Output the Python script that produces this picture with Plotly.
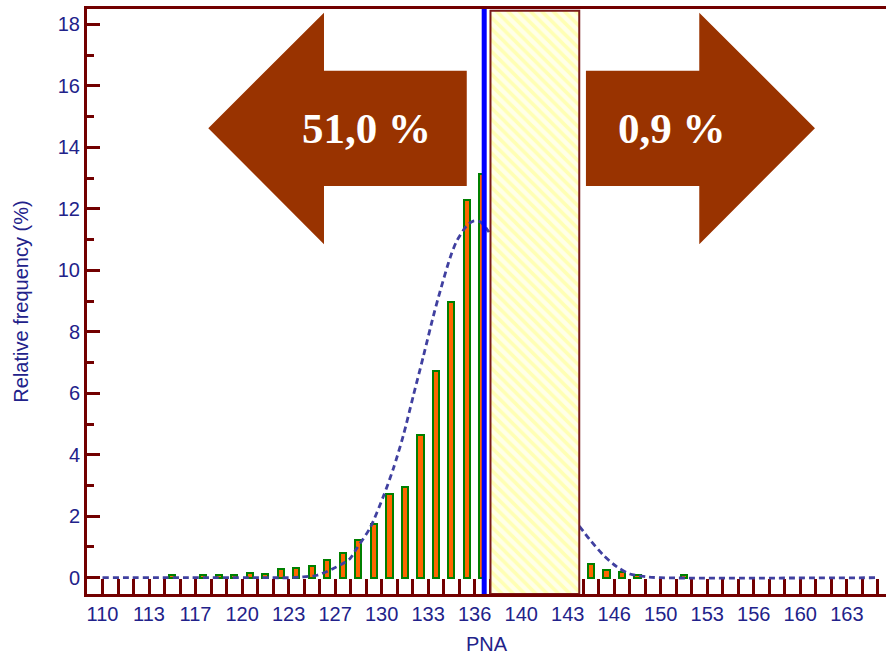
import plotly.graph_objects as go

# Histogram classes (PNA class midpoints) and relative frequencies (%)
class_mid = [115.00, 117.22, 118.33, 119.44, 120.56, 121.67, 122.78, 123.89,
             125.00, 126.11, 127.22, 128.33, 129.44, 130.56, 131.67, 132.78,
             133.89, 135.00, 136.11, 137.22,
             145.00, 146.11, 147.22, 148.33, 151.67]
rel_freq = [0.08, 0.10, 0.10, 0.10, 0.16, 0.13, 0.27, 0.30,
            0.38, 0.56, 0.81, 1.24, 1.76, 2.73, 2.95, 4.65,
            6.72, 8.98, 12.29, 13.12,
            0.43, 0.26, 0.18, 0.10, 0.10]

# Fitted density curve (dashed), left and right of the reference band
curve_x = [110.0, 122.0, 123.43, 124.15, 125.37, 126.54, 127.73, 128.21,
           129.17, 130.12, 130.84, 131.55, 132.27, 132.99, 133.70, 134.18,
           134.90, 135.38, 136.10, 136.57, 137.05, 137.64, 137.80,
           None,
           144.16, 144.93, 145.88, 146.84, 147.80, 148.99, 149.95, 165.47]
curve_y = [0.0, 0.0, 0.0, 0.02, 0.08, 0.30, 0.62, 0.95,
           1.62, 2.64, 3.55, 4.62, 5.92, 7.20, 8.50, 9.30,
           10.40, 10.95, 11.45, 11.60, 11.58, 11.28, 11.15,
           None,
           1.68, 1.23, 0.74, 0.36, 0.12, 0.03, 0.0, 0.0]

# Reference band, cut-off marker and tail percentages
band_low, band_high, band_top = 137.80, 144.16, 18.44
cutoff = 137.35
left_pct, right_pct = "51,0 %", "0,9 %"

# Axis set-up
x_start, x_end = 108.889, 166.14
y_min, y_max = -0.53, 18.5
class_width = 10 / 9
x_tick_labels = ["110", "113", "117", "120", "123", "127", "130", "133", "136",
                 "140", "143", "146", "150", "153", "156", "160", "163"]

AXIS = "#720000"
TEXT = "#22228a"
ARROW = "#993300"
FONT = "Liberation Sans, Arial, sans-serif"

fig = go.Figure()

fig.add_trace(go.Bar(
    x=class_mid, y=rel_freq, width=0.44,
    marker=dict(color="#ff6600", line=dict(color="#008000", width=2)),
    hoverinfo="skip", showlegend=False,
))

fig.add_trace(go.Scatter(
    x=curve_x, y=curve_y, mode="lines", connectgaps=False,
    line=dict(color="#4040a0", width=2.8, dash="6px,4px", shape="spline", smoothing=0.8),
    hoverinfo="skip", showlegend=False,
))

# Hatched reference band
fig.add_trace(go.Scatter(
    x=[band_low, band_high, band_high, band_low, band_low],
    y=[y_min, y_min, band_top, band_top, y_min],
    mode="lines", fill="toself",
    fillcolor="#ffffe8",
    fillpattern=dict(shape="\\", bgcolor="#ffffe8", fgcolor="#ffff80",
                     size=8, solidity=0.45),
    line=dict(color="#7a1a1a", width=2),
    hoverinfo="skip", showlegend=False,
))

# Cut-off line
fig.add_shape(type="line", xref="x", yref="y", x0=cutoff, x1=cutoff,
              y0=y_min, y1=y_max, line=dict(color="#0000ff", width=5), layer="above")

# Big arrows (head y-limits, body y-limits, middle)
head_top, head_bot, body_top, body_bot, mid = 18.38, 10.85, 16.49, 12.74, 14.62
la_tip, la_base, la_end = 117.58, 125.87, 136.10
ra_start, ra_base, ra_tip = 144.64, 152.76, 161.05

left_path = (f"M {la_tip},{mid} L {la_base},{head_top} L {la_base},{body_top} "
             f"L {la_end},{body_top} L {la_end},{body_bot} L {la_base},{body_bot} "
             f"L {la_base},{head_bot} Z")
right_path = (f"M {ra_tip},{mid} L {ra_base},{head_top} L {ra_base},{body_top} "
              f"L {ra_start},{body_top} L {ra_start},{body_bot} L {ra_base},{body_bot} "
              f"L {ra_base},{head_bot} Z")
for p in (left_path, right_path):
    fig.add_shape(type="path", path=p, xref="x", yref="y",
                  fillcolor=ARROW, line=dict(width=0), layer="above")

for txt, xc in ((left_pct, 128.88), (right_pct, 150.78)):
    fig.add_annotation(x=xc, y=mid, xref="x", yref="y", text=f"<b>{txt}</b>",
                       showarrow=False,
                       font=dict(family="Liberation Serif, Times New Roman, serif",
                                 size=43, color="white"))

x_tickvals = [110 + n * class_width for n in range(51)]
x_ticktext = [x_tick_labels[n // 3] if n % 3 == 0 else "" for n in range(51)]

fig.update_xaxes(
    range=[x_start, x_end], tickmode="array", tickvals=x_tickvals, ticktext=x_ticktext,
    ticks="inside", ticklen=15, tickwidth=3, tickcolor=AXIS,
    showline=True, linecolor=AXIS, linewidth=3, mirror=True,
    showgrid=False, zeroline=False, layer="below traces",
    tickfont=dict(family=FONT, size=20, color=TEXT),
    title=dict(text="PNA", font=dict(family=FONT, size=20, color=TEXT), standoff=16),
)
fig.update_yaxes(
    range=[y_min, y_max], tickmode="array", tickvals=list(range(0, 19, 2)),
    ticks="inside", ticklen=13, tickwidth=3, tickcolor=AXIS,
    minor=dict(tickmode="array", tickvals=list(range(1, 19, 2)), ticks="inside",
               ticklen=7, tickwidth=2.5, tickcolor=AXIS, showgrid=False),
    showline=True, linecolor=AXIS, linewidth=3,
    showgrid=False, zeroline=False,
    tickfont=dict(family=FONT, size=20, color=TEXT),
    title=dict(text="Relative frequency (%)", font=dict(family=FONT, size=20, color=TEXT),
               standoff=24),
)

fig.update_layout(
    width=886, height=655,
    margin=dict(l=87, r=0, t=9, b=61),
    plot_bgcolor="white", paper_bgcolor="white",
    bargap=0, showlegend=False,
)

fig.write_html("out.html")
